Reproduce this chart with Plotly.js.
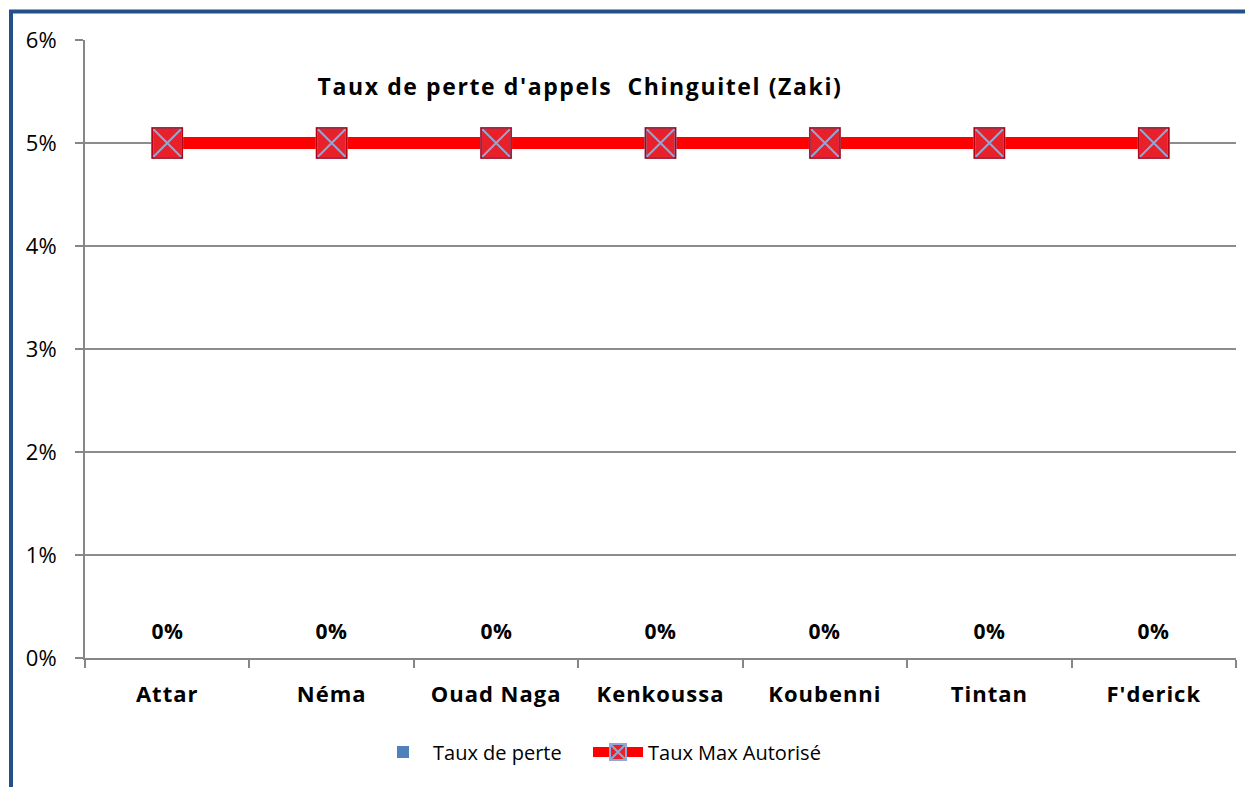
<!DOCTYPE html>
<html>
<head>
<meta charset="utf-8">
<script src="https://cdn.plot.ly/plotly-3.0.1.min.js"></script>
<style>
html,body{margin:0;padding:0;background:#fff;}
#chart{width:1245px;height:787px;}
#chart .gtitle{letter-spacing:1.6px;}
#chart .xtick text{letter-spacing:1px;}
#chart .annotation-text{letter-spacing:0.5px;}
</style>
</head>
<body>
<div id="chart"></div>
<script>
const categories = ["Attar", "Néma", "Ouad Naga", "Kenkoussa", "Koubenni", "Tintan", "F'derick"];
const tauxPerte = [0, 0, 0, 0, 0, 0, 0];
const tauxMax = [0.05, 0.05, 0.05, 0.05, 0.05, 0.05, 0.05];
const yTickVals = [0, 0.01, 0.02, 0.03, 0.04, 0.05, 0.06];
const yTickText = ["0%", "1%", "2%", "3%", "4%", "5%", "6%"];
const seriesNames = ["Taux de perte", "Taux Max Autorisé"];
const chartTitle = "Taux de perte d'appels  Chinguitel (Zaki)";

const FONT = "'Open Sans', sans-serif";
const W = 1245, H = 787, L = 85, R = 9, T = 40, B = 129;
const pw = W - L - R, ph = H - T - B;
const px = v => (v - L) / pw;
const py = v => (H - B - v) / ph;

const traces = [
  {
    type: "bar", x: categories, y: tauxPerte, name: seriesNames[0], legend: "legend",
    marker: {color: "#4F81BD", line: {color: "#385D8A", width: 0}},
    hoverinfo: "x+y"
  },
  {
    type: "scatter", mode: "lines+markers", x: categories, y: tauxMax, name: seriesNames[1], legend: "legend2",
    line: {color: "#FF0000", width: 12},
    marker: {symbol: "square-x", size: 30, color: "#E8202A", line: {color: "#8FA8D6", width: 2}}
  },
  {
    type: "scatter", mode: "markers", x: categories, y: tauxMax, showlegend: false, hoverinfo: "skip",
    marker: {symbol: "square-open", size: 30, color: "#B00010", line: {color: "#B00010", width: 1.5}}
  }
];

const annotations = categories.map((c, i) => ({
  x: c, y: tauxPerte[i], xref: "x", yref: "y",
  text: Math.round(tauxPerte[i] * 100) + "%",
  showarrow: false, yshift: 27,
  font: {family: FONT, size: 21, color: "#000", weight: "bold"}
}));

const legendBase = {
  orientation: "h", xref: "container", yref: "container",
  xanchor: "left", y: 1 - 752 / H, yanchor: "middle",
  font: {family: FONT, size: 20, color: "#000"},
  itemwidth: 50, bgcolor: "rgba(0,0,0,0)"
};

const layout = {
  width: W, height: H,
  margin: {l: L, r: R, t: T, b: B},
  paper_bgcolor: "#fff", plot_bgcolor: "#fff",
  font: {family: FONT, color: "#000"},
  title: {
    text: chartTitle, xref: "container", yref: "container",
    x: 580 / W, xanchor: "center", y: 1 - 87 / H, yanchor: "middle",
    font: {family: FONT, size: 23, color: "#000", weight: "bold"}
  },
  xaxis: {
    type: "category", range: [-0.5, 6.5], fixedrange: true,
    showline: true, linecolor: "#868686", linewidth: 2,
    ticks: "outside", tickson: "boundaries", ticklen: 8, tickcolor: "#868686", tickwidth: 2,
    ticklabelstandoff: 16,
    tickfont: {family: FONT, size: 22, color: "#000", weight: "bold"},
    showgrid: false, zeroline: false
  },
  yaxis: {
    range: [0, 0.06], fixedrange: true,
    tickvals: yTickVals, ticktext: yTickText,
    showline: true, linecolor: "#868686", linewidth: 2,
    ticks: "outside", ticklen: 8, tickcolor: "#868686", tickwidth: 2,
    ticklabelstandoff: 14,
    tickfont: {family: FONT, size: 22, color: "#000"},
    showgrid: true, gridcolor: "#8C8C8C", gridwidth: 1.3, zeroline: false
  },
  bargap: 0.4,
  showlegend: true,
  legend: Object.assign({}, legendBase, {x: 373 / W}),
  legend2: Object.assign({}, legendBase, {x: 588 / W}),
  annotations: annotations,
  shapes: [
    {type: "line", xref: "paper", yref: "paper", x0: px(11), x1: px(11), y0: py(H + 10), y1: py(11.5),
     line: {color: "#24508A", width: 4}},
    {type: "line", xref: "paper", yref: "paper", x0: px(9), x1: px(W + 10), y0: py(11.5), y1: py(11.5),
     line: {color: "#24508A", width: 4}}
  ]
};

Plotly.newPlot("chart", traces, layout, {displayModeBar: false, staticPlot: true});
</script>
</body>
</html>
